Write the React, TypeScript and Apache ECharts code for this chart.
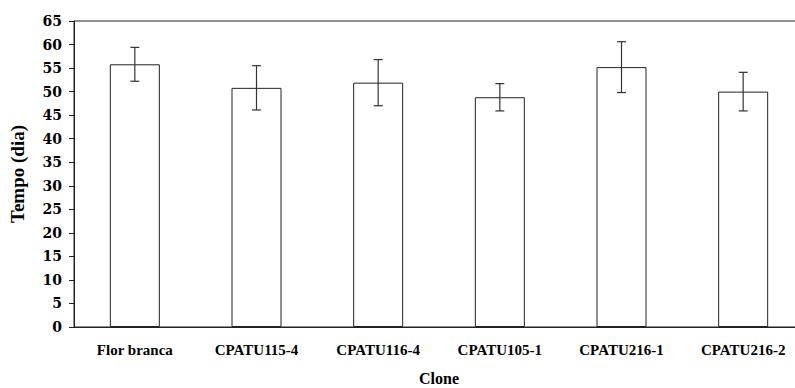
import React, { useEffect, useRef } from "react";
import * as echarts from "echarts";

const categories = ["Flor branca", "CPATU115-4", "CPATU116-4", "CPATU105-1", "CPATU216-1", "CPATU216-2"];
const means = [55.8, 50.8, 51.9, 48.8, 55.2, 50.0];
const errors = [3.6, 4.7, 4.9, 2.9, 5.4, 4.1];
const yTitle = "Tempo (dia)";
const xTitle = "Clone";

export default function App() {
  const ref = useRef<HTMLDivElement>(null);
  useEffect(() => {
    if (!ref.current) return;
    const chart = echarts.init(ref.current, null, { renderer: "svg" });
    const errData = means.map((m, i) => [i, m - errors[i], m + errors[i]]);
    chart.setOption({
      animation: false,
      backgroundColor: "#fff",
      grid: {
        left: 74, top: 21, width: 730, bottom: 61,
        show: true, borderColor: "#222", borderWidth: 1,
        containLabel: false, outerBoundsMode: "none",
      },
      xAxis: {
        type: "category",
        data: categories,
        name: xTitle,
        nameLocation: "middle",
        nameGap: 43,
        nameTextStyle: { fontFamily: "Liberation Serif", fontWeight: "bold", fontSize: 16, color: "#000" },
        axisLine: { show: true, lineStyle: { color: "#222", width: 1 } },
        axisTick: { show: false },
        axisLabel: { fontFamily: "Liberation Serif", fontWeight: "bold", fontSize: 15, color: "#000", margin: 15, interval: 0 },
        splitLine: { show: false },
      },
      yAxis: {
        type: "value",
        min: 0,
        max: 65,
        interval: 5,
        name: yTitle,
        nameLocation: "middle",
        nameGap: 47,
        nameRotate: 90,
        nameTextStyle: { fontFamily: "Liberation Serif", fontWeight: "bold", fontSize: 19, color: "#000" },
        axisLine: { show: true, lineStyle: { color: "#222", width: 1 } },
        axisTick: { show: true, length: 5, lineStyle: { color: "#222" } },
        axisLabel: { fontFamily: "DejaVu Serif", fontWeight: "bold", fontSize: 14, color: "#000", margin: 12 },
        splitLine: { show: false },
      },
      series: [
        {
          type: "bar",
          data: means,
          barWidth: 50,
          itemStyle: { color: "#fff", borderColor: "#222", borderWidth: 1 },
          z: 2,
        },
        {
          type: "custom",
          data: errData,
          z: 5,
          renderItem: (params: any, api: any) => {
            const i = api.value(0);
            const lo = api.coord([i, api.value(1)]);
            const hi = api.coord([i, api.value(2)]);
            const hw = 4.5;
            const st = { stroke: "#333", lineWidth: 1.2 };
            return {
              type: "group",
              children: [
                { type: "line", shape: { x1: lo[0], y1: lo[1], x2: hi[0], y2: hi[1] }, style: st },
                { type: "line", shape: { x1: hi[0] - hw, y1: hi[1], x2: hi[0] + hw, y2: hi[1] }, style: st },
                { type: "line", shape: { x1: lo[0] - hw, y1: lo[1], x2: lo[0] + hw, y2: lo[1] }, style: st },
              ],
            };
          },
        },
      ],
    });
    return () => chart.dispose();
  }, []);
  return <div ref={ref} style={{ position: "fixed", left: 0, top: 0, width: 795, height: 388 }} />;
}
